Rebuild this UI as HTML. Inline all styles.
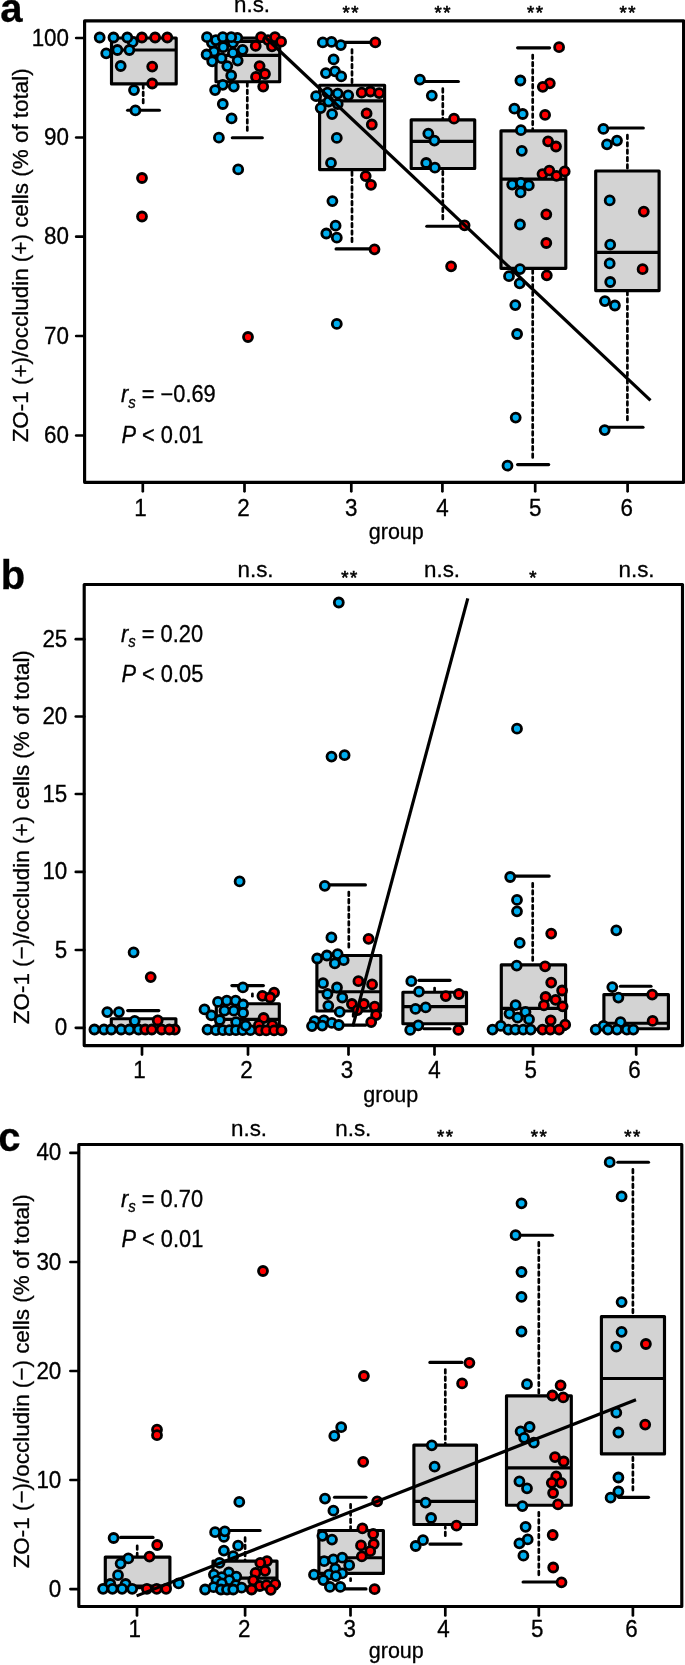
<!DOCTYPE html>
<html><head><meta charset="utf-8"><title>figure</title>
<style>
html,body{margin:0;padding:0;background:#fff;}
svg{display:block;will-change:transform;}
text{font-family:"Liberation Sans", sans-serif;fill:#000;stroke:#000;stroke-width:0.3px;}
</style></head><body>
<svg width="685" height="1665" viewBox="0 0 685 1665">
<rect x="0" y="0" width="685" height="1665" fill="#fff"/>
<g id="panelA">
<rect x="111.5" y="38" width="64.69999999999999" height="45.900000000000006" fill="#d3d3d3" stroke="#000" stroke-width="3.15" stroke-linejoin="round"/>
<line x1="111.5" y1="50" x2="176.2" y2="50" stroke="#000" stroke-width="3.15"/>
<line x1="143.2" y1="103.0" x2="143.2" y2="85" stroke="#000" stroke-width="2.7" stroke-dasharray="3.6 3.76" stroke-linecap="round"/>
<line x1="127.6" y1="110.2" x2="159.4" y2="110.2" stroke="#000" stroke-width="3.15" stroke-linecap="round"/>
<rect x="216" y="41.5" width="63.69999999999999" height="40.2" fill="#d3d3d3" stroke="#000" stroke-width="3.15" stroke-linejoin="round"/>
<line x1="216" y1="55.4" x2="279.7" y2="55.4" stroke="#000" stroke-width="3.15"/>
<line x1="232.29999999999998" y1="38.1" x2="262.29999999999995" y2="38.1" stroke="#000" stroke-width="3.15" stroke-linecap="round"/>
<line x1="247.3" y1="130.5" x2="247.3" y2="83" stroke="#000" stroke-width="2.7" stroke-dasharray="3.6 3.76" stroke-linecap="round"/>
<line x1="232.29999999999998" y1="137.7" x2="262.29999999999995" y2="137.7" stroke="#000" stroke-width="3.15" stroke-linecap="round"/>
<rect x="319.6" y="85.2" width="65.0" height="84.39999999999999" fill="#d3d3d3" stroke="#000" stroke-width="3.15" stroke-linejoin="round"/>
<line x1="319.6" y1="100.9" x2="384.6" y2="100.9" stroke="#000" stroke-width="3.15"/>
<line x1="352" y1="49.599999999999994" x2="352" y2="84" stroke="#000" stroke-width="2.7" stroke-dasharray="3.6 3.76" stroke-linecap="round"/>
<line x1="342.1" y1="42.4" x2="374.2" y2="42.4" stroke="#000" stroke-width="3.15" stroke-linecap="round"/>
<line x1="352" y1="241.7" x2="352" y2="171" stroke="#000" stroke-width="2.7" stroke-dasharray="3.6 3.76" stroke-linecap="round"/>
<line x1="336.1" y1="248.9" x2="373.4" y2="248.9" stroke="#000" stroke-width="3.15" stroke-linecap="round"/>
<rect x="411.2" y="119.8" width="63.5" height="48.7" fill="#d3d3d3" stroke="#000" stroke-width="3.15" stroke-linejoin="round"/>
<line x1="411.2" y1="141.4" x2="474.7" y2="141.4" stroke="#000" stroke-width="3.15"/>
<line x1="442.8" y1="88.7" x2="442.8" y2="118.5" stroke="#000" stroke-width="2.7" stroke-dasharray="3.6 3.76" stroke-linecap="round"/>
<line x1="420.6" y1="81.5" x2="458.4" y2="81.5" stroke="#000" stroke-width="3.15" stroke-linecap="round"/>
<line x1="442.8" y1="219.0" x2="442.8" y2="170" stroke="#000" stroke-width="2.7" stroke-dasharray="3.6 3.76" stroke-linecap="round"/>
<line x1="426.8" y1="226.2" x2="463.9" y2="226.2" stroke="#000" stroke-width="3.15" stroke-linecap="round"/>
<rect x="501" y="130.8" width="64.79999999999995" height="137.5" fill="#d3d3d3" stroke="#000" stroke-width="3.15" stroke-linejoin="round"/>
<line x1="501" y1="179.1" x2="565.8" y2="179.1" stroke="#000" stroke-width="3.15"/>
<line x1="532.7" y1="55.0" x2="532.7" y2="129.5" stroke="#000" stroke-width="2.7" stroke-dasharray="3.6 3.76" stroke-linecap="round"/>
<line x1="517.6" y1="47.8" x2="549.6" y2="47.8" stroke="#000" stroke-width="3.15" stroke-linecap="round"/>
<line x1="532.7" y1="457.4" x2="532.7" y2="270" stroke="#000" stroke-width="2.7" stroke-dasharray="3.6 3.76" stroke-linecap="round"/>
<line x1="517.6" y1="464.6" x2="548.6999999999999" y2="464.6" stroke="#000" stroke-width="3.15" stroke-linecap="round"/>
<rect x="595.7" y="171" width="63.39999999999998" height="119.60000000000002" fill="#d3d3d3" stroke="#000" stroke-width="3.15" stroke-linejoin="round"/>
<line x1="595.7" y1="252.4" x2="659.1" y2="252.4" stroke="#000" stroke-width="3.15"/>
<line x1="627.4" y1="135.20000000000002" x2="627.4" y2="169.5" stroke="#000" stroke-width="2.7" stroke-dasharray="3.6 3.76" stroke-linecap="round"/>
<line x1="609.9" y1="128" x2="643.3" y2="128" stroke="#000" stroke-width="3.15" stroke-linecap="round"/>
<line x1="627.4" y1="420.0" x2="627.4" y2="292" stroke="#000" stroke-width="2.7" stroke-dasharray="3.6 3.76" stroke-linecap="round"/>
<line x1="608.7" y1="427.2" x2="643.0" y2="427.2" stroke="#000" stroke-width="3.15" stroke-linecap="round"/>
<rect x="84.6" y="20.8" width="599.0" height="461.5" fill="none" stroke="#000" stroke-width="3.15" stroke-linejoin="round"/>
<line x1="76.19999999999999" y1="38" x2="84.6" y2="38" stroke="#000" stroke-width="2.7" stroke-linecap="round"/>
<text transform="translate(69,45.5) scale(1,1.07)" font-size="22.4" text-anchor="end" >100</text>
<line x1="76.19999999999999" y1="137.5" x2="84.6" y2="137.5" stroke="#000" stroke-width="2.7" stroke-linecap="round"/>
<text transform="translate(69,145.0) scale(1,1.07)" font-size="22.4" text-anchor="end" >90</text>
<line x1="76.19999999999999" y1="236.7" x2="84.6" y2="236.7" stroke="#000" stroke-width="2.7" stroke-linecap="round"/>
<text transform="translate(69,244.2) scale(1,1.07)" font-size="22.4" text-anchor="end" >80</text>
<line x1="76.19999999999999" y1="336" x2="84.6" y2="336" stroke="#000" stroke-width="2.7" stroke-linecap="round"/>
<text transform="translate(69,343.5) scale(1,1.07)" font-size="22.4" text-anchor="end" >70</text>
<line x1="76.19999999999999" y1="435.5" x2="84.6" y2="435.5" stroke="#000" stroke-width="2.7" stroke-linecap="round"/>
<text transform="translate(69,443.0) scale(1,1.07)" font-size="22.4" text-anchor="end" >60</text>
<line x1="142.8" y1="482.3" x2="142.8" y2="491.3" stroke="#000" stroke-width="2.7" stroke-linecap="round"/>
<text transform="translate(140.5,515.8) scale(1,1.07)" font-size="22.4" text-anchor="middle" >1</text>
<line x1="244.5" y1="482.3" x2="244.5" y2="491.3" stroke="#000" stroke-width="2.7" stroke-linecap="round"/>
<text transform="translate(243.6,515.8) scale(1,1.07)" font-size="22.4" text-anchor="middle" >2</text>
<line x1="351.3" y1="482.3" x2="351.3" y2="491.3" stroke="#000" stroke-width="2.7" stroke-linecap="round"/>
<text transform="translate(351.3,515.8) scale(1,1.07)" font-size="22.4" text-anchor="middle" >3</text>
<line x1="442.4" y1="482.3" x2="442.4" y2="491.3" stroke="#000" stroke-width="2.7" stroke-linecap="round"/>
<text transform="translate(442.4,515.8) scale(1,1.07)" font-size="22.4" text-anchor="middle" >4</text>
<line x1="535.2" y1="482.3" x2="535.2" y2="491.3" stroke="#000" stroke-width="2.7" stroke-linecap="round"/>
<text transform="translate(535.2,515.8) scale(1,1.07)" font-size="22.4" text-anchor="middle" >5</text>
<line x1="627.6" y1="482.3" x2="627.6" y2="491.3" stroke="#000" stroke-width="2.7" stroke-linecap="round"/>
<text transform="translate(626.7,515.8) scale(1,1.07)" font-size="22.4" text-anchor="middle" >6</text>
<circle cx="99.7" cy="37.5" r="4.5" fill="#00aeef" stroke="#000" stroke-width="2.8"/>
<circle cx="113.5" cy="37.5" r="4.5" fill="#00aeef" stroke="#000" stroke-width="2.8"/>
<circle cx="132.7" cy="41.9" r="4.5" fill="#00aeef" stroke="#000" stroke-width="2.8"/>
<circle cx="127.3" cy="37.5" r="4.5" fill="#00aeef" stroke="#000" stroke-width="2.8"/>
<circle cx="106.2" cy="53.3" r="4.5" fill="#00aeef" stroke="#000" stroke-width="2.8"/>
<circle cx="117.4" cy="50" r="4.5" fill="#00aeef" stroke="#000" stroke-width="2.8"/>
<circle cx="129.4" cy="50" r="4.5" fill="#00aeef" stroke="#000" stroke-width="2.8"/>
<circle cx="120.7" cy="66" r="4.5" fill="#00aeef" stroke="#000" stroke-width="2.8"/>
<circle cx="134" cy="90.1" r="4.5" fill="#00aeef" stroke="#000" stroke-width="2.8"/>
<circle cx="135.4" cy="110.4" r="4.5" fill="#00aeef" stroke="#000" stroke-width="2.8"/>
<circle cx="141.9" cy="37.5" r="4.5" fill="#ff0000" stroke="#000" stroke-width="2.8"/>
<circle cx="155.1" cy="37.5" r="4.5" fill="#ff0000" stroke="#000" stroke-width="2.8"/>
<circle cx="167.3" cy="37.5" r="4.5" fill="#ff0000" stroke="#000" stroke-width="2.8"/>
<circle cx="152.2" cy="66.6" r="4.5" fill="#ff0000" stroke="#000" stroke-width="2.8"/>
<circle cx="152.2" cy="83.5" r="4.5" fill="#ff0000" stroke="#000" stroke-width="2.8"/>
<circle cx="142" cy="178" r="4.5" fill="#ff0000" stroke="#000" stroke-width="2.8"/>
<circle cx="142" cy="216.5" r="4.5" fill="#ff0000" stroke="#000" stroke-width="2.8"/>
<circle cx="211.9" cy="42.8" r="4.5" fill="#00aeef" stroke="#000" stroke-width="2.8"/>
<circle cx="215.9" cy="40.1" r="4.5" fill="#00aeef" stroke="#000" stroke-width="2.8"/>
<circle cx="207" cy="37.2" r="4.5" fill="#00aeef" stroke="#000" stroke-width="2.8"/>
<circle cx="222.8" cy="37.2" r="4.5" fill="#00aeef" stroke="#000" stroke-width="2.8"/>
<circle cx="232.9" cy="42.8" r="4.5" fill="#00aeef" stroke="#000" stroke-width="2.8"/>
<circle cx="237.3" cy="37.9" r="4.5" fill="#00aeef" stroke="#000" stroke-width="2.8"/>
<circle cx="231.2" cy="37.2" r="4.5" fill="#00aeef" stroke="#000" stroke-width="2.8"/>
<circle cx="223.3" cy="47.2" r="4.5" fill="#00aeef" stroke="#000" stroke-width="2.8"/>
<circle cx="242.6" cy="49.8" r="4.5" fill="#00aeef" stroke="#000" stroke-width="2.8"/>
<circle cx="214" cy="51.5" r="4.5" fill="#00aeef" stroke="#000" stroke-width="2.8"/>
<circle cx="232.9" cy="52.9" r="4.5" fill="#00aeef" stroke="#000" stroke-width="2.8"/>
<circle cx="206.6" cy="54.5" r="4.5" fill="#00aeef" stroke="#000" stroke-width="2.8"/>
<circle cx="221.5" cy="58.2" r="4.5" fill="#00aeef" stroke="#000" stroke-width="2.8"/>
<circle cx="212.2" cy="61.3" r="4.5" fill="#00aeef" stroke="#000" stroke-width="2.8"/>
<circle cx="237.7" cy="60.6" r="4.5" fill="#00aeef" stroke="#000" stroke-width="2.8"/>
<circle cx="227.3" cy="66.1" r="4.5" fill="#00aeef" stroke="#000" stroke-width="2.8"/>
<circle cx="231.2" cy="75.5" r="4.5" fill="#00aeef" stroke="#000" stroke-width="2.8"/>
<circle cx="222.8" cy="84.8" r="4.5" fill="#00aeef" stroke="#000" stroke-width="2.8"/>
<circle cx="233.8" cy="86.6" r="4.5" fill="#00aeef" stroke="#000" stroke-width="2.8"/>
<circle cx="215.1" cy="90.1" r="4.5" fill="#00aeef" stroke="#000" stroke-width="2.8"/>
<circle cx="222.8" cy="104" r="4.5" fill="#00aeef" stroke="#000" stroke-width="2.8"/>
<circle cx="231.6" cy="118.4" r="4.5" fill="#00aeef" stroke="#000" stroke-width="2.8"/>
<circle cx="218.9" cy="137.7" r="4.5" fill="#00aeef" stroke="#000" stroke-width="2.8"/>
<circle cx="238.2" cy="169.4" r="4.5" fill="#00aeef" stroke="#000" stroke-width="2.8"/>
<circle cx="261" cy="37.2" r="4.5" fill="#ff0000" stroke="#000" stroke-width="2.8"/>
<circle cx="268" cy="40.1" r="4.5" fill="#ff0000" stroke="#000" stroke-width="2.8"/>
<circle cx="275" cy="37.2" r="4.5" fill="#ff0000" stroke="#000" stroke-width="2.8"/>
<circle cx="281.1" cy="41.7" r="4.5" fill="#ff0000" stroke="#000" stroke-width="2.8"/>
<circle cx="255.7" cy="45.9" r="4.5" fill="#ff0000" stroke="#000" stroke-width="2.8"/>
<circle cx="272" cy="46.3" r="4.5" fill="#ff0000" stroke="#000" stroke-width="2.8"/>
<circle cx="259.6" cy="66.1" r="4.5" fill="#ff0000" stroke="#000" stroke-width="2.8"/>
<circle cx="265" cy="74" r="4.5" fill="#ff0000" stroke="#000" stroke-width="2.8"/>
<circle cx="256" cy="76.9" r="4.5" fill="#ff0000" stroke="#000" stroke-width="2.8"/>
<circle cx="263.2" cy="86.6" r="4.5" fill="#ff0000" stroke="#000" stroke-width="2.8"/>
<circle cx="248" cy="337" r="4.5" fill="#ff0000" stroke="#000" stroke-width="2.8"/>
<circle cx="322.8" cy="42.4" r="4.5" fill="#00aeef" stroke="#000" stroke-width="2.8"/>
<circle cx="331.5" cy="41.9" r="4.5" fill="#00aeef" stroke="#000" stroke-width="2.8"/>
<circle cx="340.8" cy="45.1" r="4.5" fill="#00aeef" stroke="#000" stroke-width="2.8"/>
<circle cx="333.6" cy="59.4" r="4.5" fill="#00aeef" stroke="#000" stroke-width="2.8"/>
<circle cx="325.9" cy="73.1" r="4.5" fill="#00aeef" stroke="#000" stroke-width="2.8"/>
<circle cx="335" cy="71.3" r="4.5" fill="#00aeef" stroke="#000" stroke-width="2.8"/>
<circle cx="341.2" cy="76.4" r="4.5" fill="#00aeef" stroke="#000" stroke-width="2.8"/>
<circle cx="316.1" cy="96.2" r="4.5" fill="#00aeef" stroke="#000" stroke-width="2.8"/>
<circle cx="327.5" cy="92.7" r="4.5" fill="#00aeef" stroke="#000" stroke-width="2.8"/>
<circle cx="337.7" cy="93.6" r="4.5" fill="#00aeef" stroke="#000" stroke-width="2.8"/>
<circle cx="348.2" cy="95.3" r="4.5" fill="#00aeef" stroke="#000" stroke-width="2.8"/>
<circle cx="328.6" cy="101.5" r="4.5" fill="#00aeef" stroke="#000" stroke-width="2.8"/>
<circle cx="337.7" cy="104.1" r="4.5" fill="#00aeef" stroke="#000" stroke-width="2.8"/>
<circle cx="320.7" cy="108.1" r="4.5" fill="#00aeef" stroke="#000" stroke-width="2.8"/>
<circle cx="332.1" cy="114.1" r="4.5" fill="#00aeef" stroke="#000" stroke-width="2.8"/>
<circle cx="336.8" cy="137.9" r="4.5" fill="#00aeef" stroke="#000" stroke-width="2.8"/>
<circle cx="331" cy="162.9" r="4.5" fill="#00aeef" stroke="#000" stroke-width="2.8"/>
<circle cx="332.4" cy="201.1" r="4.5" fill="#00aeef" stroke="#000" stroke-width="2.8"/>
<circle cx="335.6" cy="225.7" r="4.5" fill="#00aeef" stroke="#000" stroke-width="2.8"/>
<circle cx="326.3" cy="233.5" r="4.5" fill="#00aeef" stroke="#000" stroke-width="2.8"/>
<circle cx="336.8" cy="237.7" r="4.5" fill="#00aeef" stroke="#000" stroke-width="2.8"/>
<circle cx="336.8" cy="323.9" r="4.5" fill="#00aeef" stroke="#000" stroke-width="2.8"/>
<circle cx="375.3" cy="42.4" r="4.5" fill="#ff0000" stroke="#000" stroke-width="2.8"/>
<circle cx="361.7" cy="92.7" r="4.5" fill="#ff0000" stroke="#000" stroke-width="2.8"/>
<circle cx="370.4" cy="91.5" r="4.5" fill="#ff0000" stroke="#000" stroke-width="2.8"/>
<circle cx="379.2" cy="93.1" r="4.5" fill="#ff0000" stroke="#000" stroke-width="2.8"/>
<circle cx="366.6" cy="113.4" r="4.5" fill="#ff0000" stroke="#000" stroke-width="2.8"/>
<circle cx="371.8" cy="124.5" r="4.5" fill="#ff0000" stroke="#000" stroke-width="2.8"/>
<circle cx="365.7" cy="176.1" r="4.5" fill="#ff0000" stroke="#000" stroke-width="2.8"/>
<circle cx="371" cy="184.8" r="4.5" fill="#ff0000" stroke="#000" stroke-width="2.8"/>
<circle cx="374.5" cy="249.3" r="4.5" fill="#ff0000" stroke="#000" stroke-width="2.8"/>
<circle cx="419.9" cy="79.6" r="4.5" fill="#00aeef" stroke="#000" stroke-width="2.8"/>
<circle cx="431.8" cy="95.6" r="4.5" fill="#00aeef" stroke="#000" stroke-width="2.8"/>
<circle cx="428.3" cy="133.6" r="4.5" fill="#00aeef" stroke="#000" stroke-width="2.8"/>
<circle cx="434.4" cy="140.6" r="4.5" fill="#00aeef" stroke="#000" stroke-width="2.8"/>
<circle cx="426.2" cy="163" r="4.5" fill="#00aeef" stroke="#000" stroke-width="2.8"/>
<circle cx="434.9" cy="167.7" r="4.5" fill="#00aeef" stroke="#000" stroke-width="2.8"/>
<circle cx="454" cy="118.7" r="4.5" fill="#ff0000" stroke="#000" stroke-width="2.8"/>
<circle cx="464.6" cy="225.3" r="4.5" fill="#ff0000" stroke="#000" stroke-width="2.8"/>
<circle cx="451.1" cy="266.3" r="4.5" fill="#ff0000" stroke="#000" stroke-width="2.8"/>
<circle cx="520.4" cy="80.5" r="4.5" fill="#00aeef" stroke="#000" stroke-width="2.8"/>
<circle cx="514.4" cy="108.7" r="4.5" fill="#00aeef" stroke="#000" stroke-width="2.8"/>
<circle cx="522.7" cy="114" r="4.5" fill="#00aeef" stroke="#000" stroke-width="2.8"/>
<circle cx="520.9" cy="130.2" r="4.5" fill="#00aeef" stroke="#000" stroke-width="2.8"/>
<circle cx="521.8" cy="150.8" r="4.5" fill="#00aeef" stroke="#000" stroke-width="2.8"/>
<circle cx="512.2" cy="184.6" r="4.5" fill="#00aeef" stroke="#000" stroke-width="2.8"/>
<circle cx="520.9" cy="182.8" r="4.5" fill="#00aeef" stroke="#000" stroke-width="2.8"/>
<circle cx="528.8" cy="185.4" r="4.5" fill="#00aeef" stroke="#000" stroke-width="2.8"/>
<circle cx="520.6" cy="192.4" r="4.5" fill="#00aeef" stroke="#000" stroke-width="2.8"/>
<circle cx="520" cy="224.5" r="4.5" fill="#00aeef" stroke="#000" stroke-width="2.8"/>
<circle cx="520" cy="269.1" r="4.5" fill="#00aeef" stroke="#000" stroke-width="2.8"/>
<circle cx="509" cy="276.2" r="4.5" fill="#00aeef" stroke="#000" stroke-width="2.8"/>
<circle cx="519.7" cy="283.3" r="4.5" fill="#00aeef" stroke="#000" stroke-width="2.8"/>
<circle cx="515.3" cy="305.1" r="4.5" fill="#00aeef" stroke="#000" stroke-width="2.8"/>
<circle cx="517.1" cy="334" r="4.5" fill="#00aeef" stroke="#000" stroke-width="2.8"/>
<circle cx="515.7" cy="417.6" r="4.5" fill="#00aeef" stroke="#000" stroke-width="2.8"/>
<circle cx="507.5" cy="465.7" r="4.5" fill="#00aeef" stroke="#000" stroke-width="2.8"/>
<circle cx="559.1" cy="47.2" r="4.5" fill="#ff0000" stroke="#000" stroke-width="2.8"/>
<circle cx="549.8" cy="83.3" r="4.5" fill="#ff0000" stroke="#000" stroke-width="2.8"/>
<circle cx="542.8" cy="86.8" r="4.5" fill="#ff0000" stroke="#000" stroke-width="2.8"/>
<circle cx="545.1" cy="114.9" r="4.5" fill="#ff0000" stroke="#000" stroke-width="2.8"/>
<circle cx="548.1" cy="141.3" r="4.5" fill="#ff0000" stroke="#000" stroke-width="2.8"/>
<circle cx="556" cy="146.5" r="4.5" fill="#ff0000" stroke="#000" stroke-width="2.8"/>
<circle cx="542.5" cy="174.1" r="4.5" fill="#ff0000" stroke="#000" stroke-width="2.8"/>
<circle cx="549.3" cy="170.6" r="4.5" fill="#ff0000" stroke="#000" stroke-width="2.8"/>
<circle cx="556.5" cy="175.8" r="4.5" fill="#ff0000" stroke="#000" stroke-width="2.8"/>
<circle cx="564.7" cy="171.4" r="4.5" fill="#ff0000" stroke="#000" stroke-width="2.8"/>
<circle cx="546.3" cy="214.3" r="4.5" fill="#ff0000" stroke="#000" stroke-width="2.8"/>
<circle cx="546.3" cy="243" r="4.5" fill="#ff0000" stroke="#000" stroke-width="2.8"/>
<circle cx="546.8" cy="275.3" r="4.5" fill="#ff0000" stroke="#000" stroke-width="2.8"/>
<circle cx="603.4" cy="128.9" r="4.5" fill="#00aeef" stroke="#000" stroke-width="2.8"/>
<circle cx="617" cy="140.6" r="4.5" fill="#00aeef" stroke="#000" stroke-width="2.8"/>
<circle cx="607" cy="144.3" r="4.5" fill="#00aeef" stroke="#000" stroke-width="2.8"/>
<circle cx="609.7" cy="200.4" r="4.5" fill="#00aeef" stroke="#000" stroke-width="2.8"/>
<circle cx="610.2" cy="244.7" r="4.5" fill="#00aeef" stroke="#000" stroke-width="2.8"/>
<circle cx="609.7" cy="263.4" r="4.5" fill="#00aeef" stroke="#000" stroke-width="2.8"/>
<circle cx="610.2" cy="282" r="4.5" fill="#00aeef" stroke="#000" stroke-width="2.8"/>
<circle cx="604.9" cy="301.1" r="4.5" fill="#00aeef" stroke="#000" stroke-width="2.8"/>
<circle cx="614.9" cy="305.5" r="4.5" fill="#00aeef" stroke="#000" stroke-width="2.8"/>
<circle cx="604.7" cy="430.1" r="4.5" fill="#00aeef" stroke="#000" stroke-width="2.8"/>
<circle cx="643.8" cy="211.6" r="4.5" fill="#ff0000" stroke="#000" stroke-width="2.8"/>
<circle cx="642.6" cy="269.2" r="4.5" fill="#ff0000" stroke="#000" stroke-width="2.8"/>
<line x1="264.4" y1="36.5" x2="650.5" y2="400.3" stroke="#000" stroke-width="3.15"/>
<text x="0.2" y="22.1" font-size="40" text-anchor="start" font-weight="bold">a</text>
<text x="252" y="12.2" font-size="22.4" text-anchor="middle" >n.s.</text>
<text x="342.50 351.25" y="19.18" font-size="18.6" style="stroke-width:0.6px">**</text>
<text x="434.50 443.25" y="19.18" font-size="18.6" style="stroke-width:0.6px">**</text>
<text x="527.00 535.75" y="19.18" font-size="18.6" style="stroke-width:0.6px">**</text>
<text x="619.50 628.25" y="19.18" font-size="18.6" style="stroke-width:0.6px">**</text>
<text transform="translate(121.0,402.4) scale(1,1.06)" font-size="21.8"><tspan font-style="italic">r</tspan><tspan font-style="italic" font-size="15" dy="5">s</tspan><tspan dy="-5"> = −0.69</tspan></text>
<text transform="translate(121.5,442.6) scale(1,1.06)" font-size="21.8"><tspan font-style="italic">P</tspan> &lt; 0.01</text>
<text x="396.3" y="539.1" font-size="21.5" text-anchor="middle" >group</text>
<text transform="translate(28.2,255.3) rotate(-90)" font-size="22.45" text-anchor="middle">ZO-1 (+)/occludin (+) cells (% of total)</text>
</g>
<g id="panelB">
<rect x="111.3" y="1018.7" width="64.60000000000001" height="10.599999999999909" fill="#d3d3d3" stroke="#000" stroke-width="3.15" stroke-linejoin="round"/>
<line x1="111.3" y1="1028.3" x2="175.9" y2="1028.3" stroke="#000" stroke-width="3.15"/>
<line x1="127.69999999999999" y1="1010.6" x2="158.8" y2="1010.6" stroke="#000" stroke-width="3.15" stroke-linecap="round"/>
<rect x="216.3" y="1003.7" width="63.0" height="25.59999999999991" fill="#d3d3d3" stroke="#000" stroke-width="3.15" stroke-linejoin="round"/>
<line x1="216.3" y1="1019.4" x2="279.3" y2="1019.4" stroke="#000" stroke-width="3.15"/>
<line x1="252.4" y1="993.8" x2="252.4" y2="996.2" stroke="#000" stroke-width="2.7" stroke-dasharray="3.6 3.76" stroke-linecap="round"/>
<line x1="231.9" y1="985.6" x2="263.4" y2="985.6" stroke="#000" stroke-width="3.15" stroke-linecap="round"/>
<rect x="316.9" y="955.5" width="63.900000000000034" height="55.5" fill="#d3d3d3" stroke="#000" stroke-width="3.15" stroke-linejoin="round"/>
<line x1="316.9" y1="991.7" x2="380.8" y2="991.7" stroke="#000" stroke-width="3.15"/>
<line x1="348.8" y1="892.0999999999999" x2="348.8" y2="948.5" stroke="#000" stroke-width="2.7" stroke-dasharray="3.6 3.76" stroke-linecap="round"/>
<line x1="325.90000000000003" y1="884.9" x2="365.4" y2="884.9" stroke="#000" stroke-width="3.15" stroke-linecap="round"/>
<line x1="353.2" y1="1016.3" x2="353.2" y2="1014" stroke="#000" stroke-width="2.7" stroke-dasharray="3.6 3.76" stroke-linecap="round"/>
<line x1="339.90000000000003" y1="1025.1" x2="365.7" y2="1025.1" stroke="#000" stroke-width="3.15" stroke-linecap="round"/>
<rect x="402.9" y="992.2" width="63.60000000000002" height="31.5" fill="#d3d3d3" stroke="#000" stroke-width="3.15" stroke-linejoin="round"/>
<line x1="402.9" y1="1006.6" x2="466.5" y2="1006.6" stroke="#000" stroke-width="3.15"/>
<line x1="434.6" y1="988" x2="434.6" y2="991" stroke="#000" stroke-width="2.7" stroke-dasharray="3.6 3.76" stroke-linecap="round"/>
<line x1="418.90000000000003" y1="980.3" x2="450.0" y2="980.3" stroke="#000" stroke-width="3.15" stroke-linecap="round"/>
<line x1="424.1" y1="1028.7" x2="450.0" y2="1028.7" stroke="#000" stroke-width="3.15" stroke-linecap="round"/>
<rect x="501.3" y="964.8" width="64.30000000000001" height="64.5" fill="#d3d3d3" stroke="#000" stroke-width="3.15" stroke-linejoin="round"/>
<line x1="501.3" y1="1008.4" x2="565.6" y2="1008.4" stroke="#000" stroke-width="3.15"/>
<line x1="532.7" y1="883.3" x2="532.7" y2="963.5" stroke="#000" stroke-width="2.7" stroke-dasharray="3.6 3.76" stroke-linecap="round"/>
<line x1="511.1" y1="876.1" x2="549.1999999999999" y2="876.1" stroke="#000" stroke-width="3.15" stroke-linecap="round"/>
<rect x="603.9" y="994.6" width="64.5" height="34.19999999999993" fill="#d3d3d3" stroke="#000" stroke-width="3.15" stroke-linejoin="round"/>
<line x1="603.9" y1="1023.2" x2="668.4" y2="1023.2" stroke="#000" stroke-width="3.15"/>
<line x1="620.4" y1="986.2" x2="651.0" y2="986.2" stroke="#000" stroke-width="3.15" stroke-linecap="round"/>
<rect x="84.2" y="584.5" width="598.3" height="461.0999999999999" fill="none" stroke="#000" stroke-width="3.15" stroke-linejoin="round"/>
<line x1="75.8" y1="639.2" x2="84.2" y2="639.2" stroke="#000" stroke-width="2.7" stroke-linecap="round"/>
<text transform="translate(67.3,646.7) scale(1,1.07)" font-size="22.4" text-anchor="end" >25</text>
<line x1="75.8" y1="716.5" x2="84.2" y2="716.5" stroke="#000" stroke-width="2.7" stroke-linecap="round"/>
<text transform="translate(67.3,724.0) scale(1,1.07)" font-size="22.4" text-anchor="end" >20</text>
<line x1="75.8" y1="794" x2="84.2" y2="794" stroke="#000" stroke-width="2.7" stroke-linecap="round"/>
<text transform="translate(67.3,801.5) scale(1,1.07)" font-size="22.4" text-anchor="end" >15</text>
<line x1="75.8" y1="871.9" x2="84.2" y2="871.9" stroke="#000" stroke-width="2.7" stroke-linecap="round"/>
<text transform="translate(67.3,879.4) scale(1,1.07)" font-size="22.4" text-anchor="end" >10</text>
<line x1="75.8" y1="950" x2="84.2" y2="950" stroke="#000" stroke-width="2.7" stroke-linecap="round"/>
<text transform="translate(67.3,957.5) scale(1,1.07)" font-size="22.4" text-anchor="end" >5</text>
<line x1="75.8" y1="1027.8" x2="84.2" y2="1027.8" stroke="#000" stroke-width="2.7" stroke-linecap="round"/>
<text transform="translate(67.3,1035.3) scale(1,1.07)" font-size="22.4" text-anchor="end" >0</text>
<line x1="142" y1="1045.6" x2="142" y2="1054.6" stroke="#000" stroke-width="2.7" stroke-linecap="round"/>
<text transform="translate(139.6,1077.6999999999998) scale(1,1.07)" font-size="22.4" text-anchor="middle" >1</text>
<line x1="248" y1="1045.6" x2="248" y2="1054.6" stroke="#000" stroke-width="2.7" stroke-linecap="round"/>
<text transform="translate(246.4,1077.6999999999998) scale(1,1.07)" font-size="22.4" text-anchor="middle" >2</text>
<line x1="348.5" y1="1045.6" x2="348.5" y2="1054.6" stroke="#000" stroke-width="2.7" stroke-linecap="round"/>
<text transform="translate(346.9,1077.6999999999998) scale(1,1.07)" font-size="22.4" text-anchor="middle" >3</text>
<line x1="434.5" y1="1045.6" x2="434.5" y2="1054.6" stroke="#000" stroke-width="2.7" stroke-linecap="round"/>
<text transform="translate(434.5,1077.6999999999998) scale(1,1.07)" font-size="22.4" text-anchor="middle" >4</text>
<line x1="533" y1="1045.6" x2="533" y2="1054.6" stroke="#000" stroke-width="2.7" stroke-linecap="round"/>
<text transform="translate(530.8,1077.6999999999998) scale(1,1.07)" font-size="22.4" text-anchor="middle" >5</text>
<line x1="636.2" y1="1045.6" x2="636.2" y2="1054.6" stroke="#000" stroke-width="2.7" stroke-linecap="round"/>
<text transform="translate(634.6,1077.6999999999998) scale(1,1.07)" font-size="22.4" text-anchor="middle" >6</text>
<circle cx="133.6" cy="952.3" r="4.5" fill="#00aeef" stroke="#000" stroke-width="2.8"/>
<circle cx="107.3" cy="1012.1" r="4.5" fill="#00aeef" stroke="#000" stroke-width="2.8"/>
<circle cx="118.9" cy="1012.1" r="4.5" fill="#00aeef" stroke="#000" stroke-width="2.8"/>
<circle cx="134.7" cy="1020.9" r="4.5" fill="#00aeef" stroke="#000" stroke-width="2.8"/>
<circle cx="94.4" cy="1029.5" r="4.5" fill="#00aeef" stroke="#000" stroke-width="2.8"/>
<circle cx="104" cy="1029.5" r="4.5" fill="#00aeef" stroke="#000" stroke-width="2.8"/>
<circle cx="111.3" cy="1029.5" r="4.5" fill="#00aeef" stroke="#000" stroke-width="2.8"/>
<circle cx="121.1" cy="1029.5" r="4.5" fill="#00aeef" stroke="#000" stroke-width="2.8"/>
<circle cx="129.4" cy="1029.5" r="4.5" fill="#00aeef" stroke="#000" stroke-width="2.8"/>
<circle cx="138.6" cy="1029.5" r="4.5" fill="#00aeef" stroke="#000" stroke-width="2.8"/>
<circle cx="150.7" cy="977.1" r="4.5" fill="#ff0000" stroke="#000" stroke-width="2.8"/>
<circle cx="157.7" cy="1020.4" r="4.5" fill="#ff0000" stroke="#000" stroke-width="2.8"/>
<circle cx="145.2" cy="1029.5" r="4.5" fill="#ff0000" stroke="#000" stroke-width="2.8"/>
<circle cx="151.8" cy="1029.5" r="4.5" fill="#ff0000" stroke="#000" stroke-width="2.8"/>
<circle cx="161.6" cy="1029.5" r="4.5" fill="#ff0000" stroke="#000" stroke-width="2.8"/>
<circle cx="174.8" cy="1029.5" r="4.5" fill="#ff0000" stroke="#000" stroke-width="2.8"/>
<circle cx="169.3" cy="1029.5" r="4.5" fill="#ff0000" stroke="#000" stroke-width="2.8"/>
<circle cx="239.6" cy="881.4" r="4.5" fill="#00aeef" stroke="#000" stroke-width="2.8"/>
<circle cx="242.9" cy="987.4" r="4.5" fill="#00aeef" stroke="#000" stroke-width="2.8"/>
<circle cx="218" cy="1001.9" r="4.5" fill="#00aeef" stroke="#000" stroke-width="2.8"/>
<circle cx="226.8" cy="1000.7" r="4.5" fill="#00aeef" stroke="#000" stroke-width="2.8"/>
<circle cx="235.6" cy="1000.7" r="4.5" fill="#00aeef" stroke="#000" stroke-width="2.8"/>
<circle cx="243.1" cy="1004.5" r="4.5" fill="#00aeef" stroke="#000" stroke-width="2.8"/>
<circle cx="204.5" cy="1009.4" r="4.5" fill="#00aeef" stroke="#000" stroke-width="2.8"/>
<circle cx="224.5" cy="1010.7" r="4.5" fill="#00aeef" stroke="#000" stroke-width="2.8"/>
<circle cx="233.8" cy="1010.7" r="4.5" fill="#00aeef" stroke="#000" stroke-width="2.8"/>
<circle cx="243.1" cy="1012.9" r="4.5" fill="#00aeef" stroke="#000" stroke-width="2.8"/>
<circle cx="211.4" cy="1015.4" r="4.5" fill="#00aeef" stroke="#000" stroke-width="2.8"/>
<circle cx="219.8" cy="1020" r="4.5" fill="#00aeef" stroke="#000" stroke-width="2.8"/>
<circle cx="236.1" cy="1022.1" r="4.5" fill="#00aeef" stroke="#000" stroke-width="2.8"/>
<circle cx="207.5" cy="1029.6" r="4.5" fill="#00aeef" stroke="#000" stroke-width="2.8"/>
<circle cx="215.9" cy="1030.2" r="4.5" fill="#00aeef" stroke="#000" stroke-width="2.8"/>
<circle cx="222.9" cy="1030.2" r="4.5" fill="#00aeef" stroke="#000" stroke-width="2.8"/>
<circle cx="229.4" cy="1030.2" r="4.5" fill="#00aeef" stroke="#000" stroke-width="2.8"/>
<circle cx="235.9" cy="1030.2" r="4.5" fill="#00aeef" stroke="#000" stroke-width="2.8"/>
<circle cx="242.6" cy="1030.2" r="4.5" fill="#00aeef" stroke="#000" stroke-width="2.8"/>
<circle cx="250.4" cy="1030.2" r="4.5" fill="#00aeef" stroke="#000" stroke-width="2.8"/>
<circle cx="245.7" cy="1025.6" r="4.5" fill="#00aeef" stroke="#000" stroke-width="2.8"/>
<circle cx="274.1" cy="992.6" r="4.5" fill="#ff0000" stroke="#000" stroke-width="2.8"/>
<circle cx="262.4" cy="995.8" r="4.5" fill="#ff0000" stroke="#000" stroke-width="2.8"/>
<circle cx="270.1" cy="997.5" r="4.5" fill="#ff0000" stroke="#000" stroke-width="2.8"/>
<circle cx="263.6" cy="1018" r="4.5" fill="#ff0000" stroke="#000" stroke-width="2.8"/>
<circle cx="258.9" cy="1025.2" r="4.5" fill="#ff0000" stroke="#000" stroke-width="2.8"/>
<circle cx="272.3" cy="1025.2" r="4.5" fill="#ff0000" stroke="#000" stroke-width="2.8"/>
<circle cx="259.7" cy="1030.4" r="4.5" fill="#ff0000" stroke="#000" stroke-width="2.8"/>
<circle cx="266.2" cy="1030.4" r="4.5" fill="#ff0000" stroke="#000" stroke-width="2.8"/>
<circle cx="274.1" cy="1030.4" r="4.5" fill="#ff0000" stroke="#000" stroke-width="2.8"/>
<circle cx="281.5" cy="1030.4" r="4.5" fill="#ff0000" stroke="#000" stroke-width="2.8"/>
<circle cx="338.8" cy="602.5" r="4.5" fill="#00aeef" stroke="#000" stroke-width="2.8"/>
<circle cx="331.5" cy="756.6" r="4.5" fill="#00aeef" stroke="#000" stroke-width="2.8"/>
<circle cx="344.6" cy="755.2" r="4.5" fill="#00aeef" stroke="#000" stroke-width="2.8"/>
<circle cx="324.8" cy="885.8" r="4.5" fill="#00aeef" stroke="#000" stroke-width="2.8"/>
<circle cx="331.4" cy="937.4" r="4.5" fill="#00aeef" stroke="#000" stroke-width="2.8"/>
<circle cx="317.2" cy="958.5" r="4.5" fill="#00aeef" stroke="#000" stroke-width="2.8"/>
<circle cx="326.9" cy="955.5" r="4.5" fill="#00aeef" stroke="#000" stroke-width="2.8"/>
<circle cx="337.6" cy="954.1" r="4.5" fill="#00aeef" stroke="#000" stroke-width="2.8"/>
<circle cx="343.7" cy="960.2" r="4.5" fill="#00aeef" stroke="#000" stroke-width="2.8"/>
<circle cx="334.8" cy="963.4" r="4.5" fill="#00aeef" stroke="#000" stroke-width="2.8"/>
<circle cx="323" cy="983.2" r="4.5" fill="#00aeef" stroke="#000" stroke-width="2.8"/>
<circle cx="337" cy="987.5" r="4.5" fill="#00aeef" stroke="#000" stroke-width="2.8"/>
<circle cx="327.4" cy="994" r="4.5" fill="#00aeef" stroke="#000" stroke-width="2.8"/>
<circle cx="342.3" cy="997.5" r="4.5" fill="#00aeef" stroke="#000" stroke-width="2.8"/>
<circle cx="328.3" cy="1005.8" r="4.5" fill="#00aeef" stroke="#000" stroke-width="2.8"/>
<circle cx="339.7" cy="1011.9" r="4.5" fill="#00aeef" stroke="#000" stroke-width="2.8"/>
<circle cx="314.6" cy="1021.2" r="4.5" fill="#00aeef" stroke="#000" stroke-width="2.8"/>
<circle cx="323.9" cy="1020.3" r="4.5" fill="#00aeef" stroke="#000" stroke-width="2.8"/>
<circle cx="312" cy="1026.1" r="4.5" fill="#00aeef" stroke="#000" stroke-width="2.8"/>
<circle cx="322.2" cy="1025.6" r="4.5" fill="#00aeef" stroke="#000" stroke-width="2.8"/>
<circle cx="331.8" cy="1022.9" r="4.5" fill="#00aeef" stroke="#000" stroke-width="2.8"/>
<circle cx="338.8" cy="1025" r="4.5" fill="#00aeef" stroke="#000" stroke-width="2.8"/>
<circle cx="368.6" cy="938.8" r="4.5" fill="#ff0000" stroke="#000" stroke-width="2.8"/>
<circle cx="358.4" cy="981.2" r="4.5" fill="#ff0000" stroke="#000" stroke-width="2.8"/>
<circle cx="372.1" cy="984.4" r="4.5" fill="#ff0000" stroke="#000" stroke-width="2.8"/>
<circle cx="351.9" cy="1004" r="4.5" fill="#ff0000" stroke="#000" stroke-width="2.8"/>
<circle cx="363.9" cy="1004" r="4.5" fill="#ff0000" stroke="#000" stroke-width="2.8"/>
<circle cx="374.7" cy="1006.6" r="4.5" fill="#ff0000" stroke="#000" stroke-width="2.8"/>
<circle cx="357.5" cy="1010.1" r="4.5" fill="#ff0000" stroke="#000" stroke-width="2.8"/>
<circle cx="376.1" cy="1015" r="4.5" fill="#ff0000" stroke="#000" stroke-width="2.8"/>
<circle cx="371.2" cy="1022.1" r="4.5" fill="#ff0000" stroke="#000" stroke-width="2.8"/>
<circle cx="411.3" cy="981.2" r="4.5" fill="#00aeef" stroke="#000" stroke-width="2.8"/>
<circle cx="419" cy="991.7" r="4.5" fill="#00aeef" stroke="#000" stroke-width="2.8"/>
<circle cx="415.5" cy="1008.9" r="4.5" fill="#00aeef" stroke="#000" stroke-width="2.8"/>
<circle cx="425.7" cy="1007.4" r="4.5" fill="#00aeef" stroke="#000" stroke-width="2.8"/>
<circle cx="418.3" cy="1025.3" r="4.5" fill="#00aeef" stroke="#000" stroke-width="2.8"/>
<circle cx="410.2" cy="1029.9" r="4.5" fill="#00aeef" stroke="#000" stroke-width="2.8"/>
<circle cx="445.8" cy="996.1" r="4.5" fill="#ff0000" stroke="#000" stroke-width="2.8"/>
<circle cx="458.9" cy="994" r="4.5" fill="#ff0000" stroke="#000" stroke-width="2.8"/>
<circle cx="458.4" cy="1029.9" r="4.5" fill="#ff0000" stroke="#000" stroke-width="2.8"/>
<circle cx="517" cy="728.7" r="4.5" fill="#00aeef" stroke="#000" stroke-width="2.8"/>
<circle cx="510.2" cy="877" r="4.5" fill="#00aeef" stroke="#000" stroke-width="2.8"/>
<circle cx="517" cy="899.9" r="4.5" fill="#00aeef" stroke="#000" stroke-width="2.8"/>
<circle cx="517" cy="911.3" r="4.5" fill="#00aeef" stroke="#000" stroke-width="2.8"/>
<circle cx="519.7" cy="942.9" r="4.5" fill="#00aeef" stroke="#000" stroke-width="2.8"/>
<circle cx="516.7" cy="965.6" r="4.5" fill="#00aeef" stroke="#000" stroke-width="2.8"/>
<circle cx="515.6" cy="1005.1" r="4.5" fill="#00aeef" stroke="#000" stroke-width="2.8"/>
<circle cx="509.5" cy="1013.6" r="4.5" fill="#00aeef" stroke="#000" stroke-width="2.8"/>
<circle cx="525.5" cy="1011.9" r="4.5" fill="#00aeef" stroke="#000" stroke-width="2.8"/>
<circle cx="517.6" cy="1017.7" r="4.5" fill="#00aeef" stroke="#000" stroke-width="2.8"/>
<circle cx="529" cy="1019.4" r="4.5" fill="#00aeef" stroke="#000" stroke-width="2.8"/>
<circle cx="500.8" cy="1025.9" r="4.5" fill="#00aeef" stroke="#000" stroke-width="2.8"/>
<circle cx="492.5" cy="1029.6" r="4.5" fill="#00aeef" stroke="#000" stroke-width="2.8"/>
<circle cx="508.3" cy="1029.6" r="4.5" fill="#00aeef" stroke="#000" stroke-width="2.8"/>
<circle cx="515.3" cy="1029.6" r="4.5" fill="#00aeef" stroke="#000" stroke-width="2.8"/>
<circle cx="523.2" cy="1029.6" r="4.5" fill="#00aeef" stroke="#000" stroke-width="2.8"/>
<circle cx="530.7" cy="1029.6" r="4.5" fill="#00aeef" stroke="#000" stroke-width="2.8"/>
<circle cx="551.2" cy="933.6" r="4.5" fill="#ff0000" stroke="#000" stroke-width="2.8"/>
<circle cx="545.1" cy="966.3" r="4.5" fill="#ff0000" stroke="#000" stroke-width="2.8"/>
<circle cx="551.2" cy="982.6" r="4.5" fill="#ff0000" stroke="#000" stroke-width="2.8"/>
<circle cx="562.1" cy="990.5" r="4.5" fill="#ff0000" stroke="#000" stroke-width="2.8"/>
<circle cx="545.6" cy="997" r="4.5" fill="#ff0000" stroke="#000" stroke-width="2.8"/>
<circle cx="555.6" cy="999.8" r="4.5" fill="#ff0000" stroke="#000" stroke-width="2.8"/>
<circle cx="543.9" cy="1005.4" r="4.5" fill="#ff0000" stroke="#000" stroke-width="2.8"/>
<circle cx="562.6" cy="1006.3" r="4.5" fill="#ff0000" stroke="#000" stroke-width="2.8"/>
<circle cx="550.7" cy="1020.3" r="4.5" fill="#ff0000" stroke="#000" stroke-width="2.8"/>
<circle cx="565.2" cy="1024.7" r="4.5" fill="#ff0000" stroke="#000" stroke-width="2.8"/>
<circle cx="542.5" cy="1029.6" r="4.5" fill="#ff0000" stroke="#000" stroke-width="2.8"/>
<circle cx="550.3" cy="1029.6" r="4.5" fill="#ff0000" stroke="#000" stroke-width="2.8"/>
<circle cx="559.1" cy="1029.6" r="4.5" fill="#ff0000" stroke="#000" stroke-width="2.8"/>
<circle cx="616.3" cy="930.3" r="4.5" fill="#00aeef" stroke="#000" stroke-width="2.8"/>
<circle cx="612.3" cy="987.1" r="4.5" fill="#00aeef" stroke="#000" stroke-width="2.8"/>
<circle cx="618.4" cy="997.6" r="4.5" fill="#00aeef" stroke="#000" stroke-width="2.8"/>
<circle cx="620.5" cy="1022.1" r="4.5" fill="#00aeef" stroke="#000" stroke-width="2.8"/>
<circle cx="603.5" cy="1025.8" r="4.5" fill="#00aeef" stroke="#000" stroke-width="2.8"/>
<circle cx="595.7" cy="1029.6" r="4.5" fill="#00aeef" stroke="#000" stroke-width="2.8"/>
<circle cx="607.9" cy="1029.6" r="4.5" fill="#00aeef" stroke="#000" stroke-width="2.8"/>
<circle cx="617" cy="1029.6" r="4.5" fill="#00aeef" stroke="#000" stroke-width="2.8"/>
<circle cx="626.8" cy="1029.6" r="4.5" fill="#00aeef" stroke="#000" stroke-width="2.8"/>
<circle cx="633.3" cy="1029.6" r="4.5" fill="#00aeef" stroke="#000" stroke-width="2.8"/>
<circle cx="652.2" cy="994.6" r="4.5" fill="#ff0000" stroke="#000" stroke-width="2.8"/>
<circle cx="652.6" cy="1020.9" r="4.5" fill="#ff0000" stroke="#000" stroke-width="2.8"/>
<line x1="352.8" y1="1026.4" x2="467.8" y2="598.4" stroke="#000" stroke-width="3.15"/>
<text x="0.7" y="589.3" font-size="40" text-anchor="start" font-weight="bold">b</text>
<text x="255.5" y="576.6" font-size="22.4" text-anchor="middle" >n.s.</text>
<text x="442" y="576.6" font-size="22.4" text-anchor="middle" >n.s.</text>
<text x="636.5" y="576.6" font-size="22.4" text-anchor="middle" >n.s.</text>
<text x="341.30 350.05" y="583.63" font-size="18.6" style="stroke-width:0.6px">**</text>
<text x="529.37" y="583.63" font-size="18.6" style="stroke-width:0.6px">*</text>
<text transform="translate(121.0,641.5) scale(1,1.06)" font-size="21.8"><tspan font-style="italic">r</tspan><tspan font-style="italic" font-size="15" dy="5">s</tspan><tspan dy="-5"> = 0.20</tspan></text>
<text transform="translate(121.5,681.6) scale(1,1.06)" font-size="21.8"><tspan font-style="italic">P</tspan> &lt; 0.05</text>
<text x="390.8" y="1101.5" font-size="21.5" text-anchor="middle" >group</text>
<text transform="translate(29.2,837.2) rotate(-90)" font-size="22.45" text-anchor="middle">ZO-1 (−)/occludin (+) cells (% of total)</text>
</g>
<g id="panelC">
<rect x="105.3" y="1557.1" width="64.60000000000001" height="30.700000000000045" fill="#d3d3d3" stroke="#000" stroke-width="3.15" stroke-linejoin="round"/>
<line x1="105.3" y1="1586" x2="169.9" y2="1586" stroke="#000" stroke-width="3.15"/>
<line x1="137.2" y1="1545.8" x2="137.2" y2="1556" stroke="#000" stroke-width="2.7" stroke-dasharray="3.6 3.76" stroke-linecap="round"/>
<line x1="120.6" y1="1537.4" x2="153.0" y2="1537.4" stroke="#000" stroke-width="3.15" stroke-linecap="round"/>
<rect x="213" y="1561.1" width="64" height="27.5" fill="#d3d3d3" stroke="#000" stroke-width="3.15" stroke-linejoin="round"/>
<line x1="213" y1="1578.1" x2="277" y2="1578.1" stroke="#000" stroke-width="3.15"/>
<line x1="245.1" y1="1537.7" x2="245.1" y2="1560" stroke="#000" stroke-width="2.7" stroke-dasharray="3.6 3.76" stroke-linecap="round"/>
<line x1="226.4" y1="1530.5" x2="260.09999999999997" y2="1530.5" stroke="#000" stroke-width="3.15" stroke-linecap="round"/>
<rect x="318.9" y="1530.5" width="64.5" height="42.90000000000009" fill="#d3d3d3" stroke="#000" stroke-width="3.15" stroke-linejoin="round"/>
<line x1="318.9" y1="1557.7" x2="383.4" y2="1557.7" stroke="#000" stroke-width="3.15"/>
<line x1="350.6" y1="1504.3999999999999" x2="350.6" y2="1529" stroke="#000" stroke-width="2.7" stroke-dasharray="3.6 3.76" stroke-linecap="round"/>
<line x1="334.5" y1="1497.2" x2="366.0" y2="1497.2" stroke="#000" stroke-width="3.15" stroke-linecap="round"/>
<line x1="350.6" y1="1580.7" x2="350.6" y2="1578.5" stroke="#000" stroke-width="2.7" stroke-dasharray="3.6 3.76" stroke-linecap="round"/>
<line x1="341.90000000000003" y1="1588.9" x2="366.0" y2="1588.9" stroke="#000" stroke-width="3.15" stroke-linecap="round"/>
<rect x="413.9" y="1445.1" width="62.60000000000002" height="79.40000000000009" fill="#d3d3d3" stroke="#000" stroke-width="3.15" stroke-linejoin="round"/>
<line x1="413.9" y1="1501.3" x2="476.5" y2="1501.3" stroke="#000" stroke-width="3.15"/>
<line x1="445.3" y1="1369.6" x2="445.3" y2="1444" stroke="#000" stroke-width="2.7" stroke-dasharray="3.6 3.76" stroke-linecap="round"/>
<line x1="429.90000000000003" y1="1362.4" x2="461.9" y2="1362.4" stroke="#000" stroke-width="3.15" stroke-linecap="round"/>
<line x1="445.3" y1="1535.7" x2="445.3" y2="1527" stroke="#000" stroke-width="2.7" stroke-dasharray="3.6 3.76" stroke-linecap="round"/>
<line x1="429.90000000000003" y1="1544.1" x2="461.0" y2="1544.1" stroke="#000" stroke-width="3.15" stroke-linecap="round"/>
<rect x="506.5" y="1395.8" width="64.79999999999995" height="109.40000000000009" fill="#d3d3d3" stroke="#000" stroke-width="3.15" stroke-linejoin="round"/>
<line x1="506.5" y1="1467.8" x2="571.3" y2="1467.8" stroke="#000" stroke-width="3.15"/>
<line x1="538.8" y1="1242.3999999999999" x2="538.8" y2="1394.5" stroke="#000" stroke-width="2.7" stroke-dasharray="3.6 3.76" stroke-linecap="round"/>
<line x1="517.0" y1="1235.2" x2="552.5" y2="1235.2" stroke="#000" stroke-width="3.15" stroke-linecap="round"/>
<line x1="538.8" y1="1574.8" x2="538.8" y2="1510.5" stroke="#000" stroke-width="2.7" stroke-dasharray="3.6 3.76" stroke-linecap="round"/>
<line x1="523.1" y1="1582" x2="560.4" y2="1582" stroke="#000" stroke-width="3.15" stroke-linecap="round"/>
<rect x="601.4" y="1316.6" width="63.10000000000002" height="137.30000000000018" fill="#d3d3d3" stroke="#000" stroke-width="3.15" stroke-linejoin="round"/>
<line x1="601.4" y1="1378.5" x2="664.5" y2="1378.5" stroke="#000" stroke-width="3.15"/>
<line x1="632.9" y1="1169.3999999999999" x2="632.9" y2="1315.5" stroke="#000" stroke-width="2.7" stroke-dasharray="3.6 3.76" stroke-linecap="round"/>
<line x1="617.8000000000001" y1="1162.2" x2="648.5" y2="1162.2" stroke="#000" stroke-width="3.15" stroke-linecap="round"/>
<line x1="632.9" y1="1490.1000000000001" x2="632.9" y2="1457.4" stroke="#000" stroke-width="2.7" stroke-dasharray="3.6 3.76" stroke-linecap="round"/>
<line x1="618.7" y1="1497.3" x2="648.5" y2="1497.3" stroke="#000" stroke-width="3.15" stroke-linecap="round"/>
<rect x="78.8" y="1144.5" width="603.0" height="462.0" fill="none" stroke="#000" stroke-width="3.15" stroke-linejoin="round"/>
<line x1="70.39999999999999" y1="1152.9" x2="78.8" y2="1152.9" stroke="#000" stroke-width="2.7" stroke-linecap="round"/>
<text transform="translate(61.3,1160.4) scale(1,1.07)" font-size="22.4" text-anchor="end" >40</text>
<line x1="70.39999999999999" y1="1262" x2="78.8" y2="1262" stroke="#000" stroke-width="2.7" stroke-linecap="round"/>
<text transform="translate(61.3,1269.5) scale(1,1.07)" font-size="22.4" text-anchor="end" >30</text>
<line x1="70.39999999999999" y1="1371" x2="78.8" y2="1371" stroke="#000" stroke-width="2.7" stroke-linecap="round"/>
<text transform="translate(61.3,1378.5) scale(1,1.07)" font-size="22.4" text-anchor="end" >20</text>
<line x1="70.39999999999999" y1="1480" x2="78.8" y2="1480" stroke="#000" stroke-width="2.7" stroke-linecap="round"/>
<text transform="translate(61.3,1487.5) scale(1,1.07)" font-size="22.4" text-anchor="end" >10</text>
<line x1="70.39999999999999" y1="1589.1" x2="78.8" y2="1589.1" stroke="#000" stroke-width="2.7" stroke-linecap="round"/>
<text transform="translate(61.3,1596.6) scale(1,1.07)" font-size="22.4" text-anchor="end" >0</text>
<line x1="137" y1="1606.5" x2="137" y2="1615.5" stroke="#000" stroke-width="2.7" stroke-linecap="round"/>
<text transform="translate(134.8,1637.3) scale(1,1.07)" font-size="22.4" text-anchor="middle" >1</text>
<line x1="245.1" y1="1606.5" x2="245.1" y2="1615.5" stroke="#000" stroke-width="2.7" stroke-linecap="round"/>
<text transform="translate(244.29999999999998,1637.3) scale(1,1.07)" font-size="22.4" text-anchor="middle" >2</text>
<line x1="350.5" y1="1606.5" x2="350.5" y2="1615.5" stroke="#000" stroke-width="2.7" stroke-linecap="round"/>
<text transform="translate(349.7,1637.3) scale(1,1.07)" font-size="22.4" text-anchor="middle" >3</text>
<line x1="445.3" y1="1606.5" x2="445.3" y2="1615.5" stroke="#000" stroke-width="2.7" stroke-linecap="round"/>
<text transform="translate(443.6,1637.3) scale(1,1.07)" font-size="22.4" text-anchor="middle" >4</text>
<line x1="538.8" y1="1606.5" x2="538.8" y2="1615.5" stroke="#000" stroke-width="2.7" stroke-linecap="round"/>
<text transform="translate(537.3,1637.3) scale(1,1.07)" font-size="22.4" text-anchor="middle" >5</text>
<line x1="632.9" y1="1606.5" x2="632.9" y2="1615.5" stroke="#000" stroke-width="2.7" stroke-linecap="round"/>
<text transform="translate(631.4,1637.3) scale(1,1.07)" font-size="22.4" text-anchor="middle" >6</text>
<circle cx="113.6" cy="1538" r="4.5" fill="#00aeef" stroke="#000" stroke-width="2.8"/>
<circle cx="128.3" cy="1558.4" r="4.5" fill="#00aeef" stroke="#000" stroke-width="2.8"/>
<circle cx="120.6" cy="1563.6" r="4.5" fill="#00aeef" stroke="#000" stroke-width="2.8"/>
<circle cx="118" cy="1575.2" r="4.5" fill="#00aeef" stroke="#000" stroke-width="2.8"/>
<circle cx="110.3" cy="1584" r="4.5" fill="#00aeef" stroke="#000" stroke-width="2.8"/>
<circle cx="125.6" cy="1584" r="4.5" fill="#00aeef" stroke="#000" stroke-width="2.8"/>
<circle cx="103.1" cy="1588.8" r="4.5" fill="#00aeef" stroke="#000" stroke-width="2.8"/>
<circle cx="112.5" cy="1588.8" r="4.5" fill="#00aeef" stroke="#000" stroke-width="2.8"/>
<circle cx="122.1" cy="1588.8" r="4.5" fill="#00aeef" stroke="#000" stroke-width="2.8"/>
<circle cx="132.2" cy="1588.8" r="4.5" fill="#00aeef" stroke="#000" stroke-width="2.8"/>
<circle cx="178.6" cy="1583.4" r="4.5" fill="#00aeef" stroke="#000" stroke-width="2.8"/>
<circle cx="157.2" cy="1545" r="4.5" fill="#ff0000" stroke="#000" stroke-width="2.8"/>
<circle cx="149.5" cy="1556.6" r="4.5" fill="#ff0000" stroke="#000" stroke-width="2.8"/>
<circle cx="146.9" cy="1588.8" r="4.5" fill="#ff0000" stroke="#000" stroke-width="2.8"/>
<circle cx="156.7" cy="1588.8" r="4.5" fill="#ff0000" stroke="#000" stroke-width="2.8"/>
<circle cx="166.1" cy="1588.8" r="4.5" fill="#ff0000" stroke="#000" stroke-width="2.8"/>
<circle cx="157" cy="1429.7" r="4.5" fill="#ff0000" stroke="#000" stroke-width="2.8"/>
<circle cx="157" cy="1435.2" r="4.5" fill="#ff0000" stroke="#000" stroke-width="2.8"/>
<circle cx="239.3" cy="1501.9" r="4.5" fill="#00aeef" stroke="#000" stroke-width="2.8"/>
<circle cx="223.9" cy="1536.9" r="4.5" fill="#00aeef" stroke="#000" stroke-width="2.8"/>
<circle cx="215.1" cy="1532.2" r="4.5" fill="#00aeef" stroke="#000" stroke-width="2.8"/>
<circle cx="224.8" cy="1531.3" r="4.5" fill="#00aeef" stroke="#000" stroke-width="2.8"/>
<circle cx="238.1" cy="1545.7" r="4.5" fill="#00aeef" stroke="#000" stroke-width="2.8"/>
<circle cx="223.9" cy="1550.6" r="4.5" fill="#00aeef" stroke="#000" stroke-width="2.8"/>
<circle cx="233.2" cy="1556.2" r="4.5" fill="#00aeef" stroke="#000" stroke-width="2.8"/>
<circle cx="219.5" cy="1562.9" r="4.5" fill="#00aeef" stroke="#000" stroke-width="2.8"/>
<circle cx="228.8" cy="1572.5" r="4.5" fill="#00aeef" stroke="#000" stroke-width="2.8"/>
<circle cx="213.9" cy="1574.6" r="4.5" fill="#00aeef" stroke="#000" stroke-width="2.8"/>
<circle cx="236.3" cy="1576.7" r="4.5" fill="#00aeef" stroke="#000" stroke-width="2.8"/>
<circle cx="221.8" cy="1577.2" r="4.5" fill="#00aeef" stroke="#000" stroke-width="2.8"/>
<circle cx="216.5" cy="1580.7" r="4.5" fill="#00aeef" stroke="#000" stroke-width="2.8"/>
<circle cx="229.3" cy="1580.2" r="4.5" fill="#00aeef" stroke="#000" stroke-width="2.8"/>
<circle cx="221.8" cy="1583.4" r="4.5" fill="#00aeef" stroke="#000" stroke-width="2.8"/>
<circle cx="213.6" cy="1587.2" r="4.5" fill="#00aeef" stroke="#000" stroke-width="2.8"/>
<circle cx="235.8" cy="1585.1" r="4.5" fill="#00aeef" stroke="#000" stroke-width="2.8"/>
<circle cx="241.6" cy="1587.7" r="4.5" fill="#00aeef" stroke="#000" stroke-width="2.8"/>
<circle cx="205.1" cy="1589.5" r="4.5" fill="#00aeef" stroke="#000" stroke-width="2.8"/>
<circle cx="220.9" cy="1589.5" r="4.5" fill="#00aeef" stroke="#000" stroke-width="2.8"/>
<circle cx="227" cy="1589.5" r="4.5" fill="#00aeef" stroke="#000" stroke-width="2.8"/>
<circle cx="233.2" cy="1589.5" r="4.5" fill="#00aeef" stroke="#000" stroke-width="2.8"/>
<circle cx="267" cy="1561.1" r="4.5" fill="#ff0000" stroke="#000" stroke-width="2.8"/>
<circle cx="260.3" cy="1562.9" r="4.5" fill="#ff0000" stroke="#000" stroke-width="2.8"/>
<circle cx="265.1" cy="1570.8" r="4.5" fill="#ff0000" stroke="#000" stroke-width="2.8"/>
<circle cx="255.6" cy="1572.9" r="4.5" fill="#ff0000" stroke="#000" stroke-width="2.8"/>
<circle cx="253.3" cy="1580.4" r="4.5" fill="#ff0000" stroke="#000" stroke-width="2.8"/>
<circle cx="275.2" cy="1584.2" r="4.5" fill="#ff0000" stroke="#000" stroke-width="2.8"/>
<circle cx="259.8" cy="1586" r="4.5" fill="#ff0000" stroke="#000" stroke-width="2.8"/>
<circle cx="266.5" cy="1585.1" r="4.5" fill="#ff0000" stroke="#000" stroke-width="2.8"/>
<circle cx="251.6" cy="1589.5" r="4.5" fill="#ff0000" stroke="#000" stroke-width="2.8"/>
<circle cx="270.8" cy="1589.8" r="4.5" fill="#ff0000" stroke="#000" stroke-width="2.8"/>
<circle cx="263" cy="1271" r="4.5" fill="#ff0000" stroke="#000" stroke-width="2.8"/>
<circle cx="341.2" cy="1427.2" r="4.5" fill="#00aeef" stroke="#000" stroke-width="2.8"/>
<circle cx="334.3" cy="1435.9" r="4.5" fill="#00aeef" stroke="#000" stroke-width="2.8"/>
<circle cx="325" cy="1498.6" r="4.5" fill="#00aeef" stroke="#000" stroke-width="2.8"/>
<circle cx="333.4" cy="1510.7" r="4.5" fill="#00aeef" stroke="#000" stroke-width="2.8"/>
<circle cx="322.4" cy="1535.8" r="4.5" fill="#00aeef" stroke="#000" stroke-width="2.8"/>
<circle cx="332" cy="1539.6" r="4.5" fill="#00aeef" stroke="#000" stroke-width="2.8"/>
<circle cx="324.2" cy="1561.2" r="4.5" fill="#00aeef" stroke="#000" stroke-width="2.8"/>
<circle cx="333.4" cy="1559.4" r="4.5" fill="#00aeef" stroke="#000" stroke-width="2.8"/>
<circle cx="342.2" cy="1557.7" r="4.5" fill="#00aeef" stroke="#000" stroke-width="2.8"/>
<circle cx="349.2" cy="1565.2" r="4.5" fill="#00aeef" stroke="#000" stroke-width="2.8"/>
<circle cx="335.2" cy="1568.7" r="4.5" fill="#00aeef" stroke="#000" stroke-width="2.8"/>
<circle cx="342.2" cy="1573.4" r="4.5" fill="#00aeef" stroke="#000" stroke-width="2.8"/>
<circle cx="314" cy="1574.7" r="4.5" fill="#00aeef" stroke="#000" stroke-width="2.8"/>
<circle cx="328.9" cy="1574.7" r="4.5" fill="#00aeef" stroke="#000" stroke-width="2.8"/>
<circle cx="335.9" cy="1576.1" r="4.5" fill="#00aeef" stroke="#000" stroke-width="2.8"/>
<circle cx="323.3" cy="1580.1" r="4.5" fill="#00aeef" stroke="#000" stroke-width="2.8"/>
<circle cx="329.9" cy="1586.9" r="4.5" fill="#00aeef" stroke="#000" stroke-width="2.8"/>
<circle cx="340.3" cy="1586.9" r="4.5" fill="#00aeef" stroke="#000" stroke-width="2.8"/>
<circle cx="363.9" cy="1376" r="4.5" fill="#ff0000" stroke="#000" stroke-width="2.8"/>
<circle cx="363.2" cy="1461.8" r="4.5" fill="#ff0000" stroke="#000" stroke-width="2.8"/>
<circle cx="377.2" cy="1501.3" r="4.5" fill="#ff0000" stroke="#000" stroke-width="2.8"/>
<circle cx="362.4" cy="1528.4" r="4.5" fill="#ff0000" stroke="#000" stroke-width="2.8"/>
<circle cx="373.2" cy="1534" r="4.5" fill="#ff0000" stroke="#000" stroke-width="2.8"/>
<circle cx="361" cy="1545.4" r="4.5" fill="#ff0000" stroke="#000" stroke-width="2.8"/>
<circle cx="373.7" cy="1544" r="4.5" fill="#ff0000" stroke="#000" stroke-width="2.8"/>
<circle cx="370.2" cy="1551.2" r="4.5" fill="#ff0000" stroke="#000" stroke-width="2.8"/>
<circle cx="361.8" cy="1556.4" r="4.5" fill="#ff0000" stroke="#000" stroke-width="2.8"/>
<circle cx="374.6" cy="1589.2" r="4.5" fill="#ff0000" stroke="#000" stroke-width="2.8"/>
<circle cx="431.8" cy="1445.3" r="4.5" fill="#00aeef" stroke="#000" stroke-width="2.8"/>
<circle cx="434.6" cy="1466.7" r="4.5" fill="#00aeef" stroke="#000" stroke-width="2.8"/>
<circle cx="425.6" cy="1502.6" r="4.5" fill="#00aeef" stroke="#000" stroke-width="2.8"/>
<circle cx="431.1" cy="1518" r="4.5" fill="#00aeef" stroke="#000" stroke-width="2.8"/>
<circle cx="423" cy="1540.2" r="4.5" fill="#00aeef" stroke="#000" stroke-width="2.8"/>
<circle cx="415.7" cy="1546" r="4.5" fill="#00aeef" stroke="#000" stroke-width="2.8"/>
<circle cx="469.4" cy="1362.8" r="4.5" fill="#ff0000" stroke="#000" stroke-width="2.8"/>
<circle cx="462.1" cy="1383.4" r="4.5" fill="#ff0000" stroke="#000" stroke-width="2.8"/>
<circle cx="456.5" cy="1525.7" r="4.5" fill="#ff0000" stroke="#000" stroke-width="2.8"/>
<circle cx="521.5" cy="1203.3" r="4.5" fill="#00aeef" stroke="#000" stroke-width="2.8"/>
<circle cx="515.6" cy="1235.2" r="4.5" fill="#00aeef" stroke="#000" stroke-width="2.8"/>
<circle cx="521.5" cy="1272" r="4.5" fill="#00aeef" stroke="#000" stroke-width="2.8"/>
<circle cx="521.5" cy="1296.9" r="4.5" fill="#00aeef" stroke="#000" stroke-width="2.8"/>
<circle cx="521.5" cy="1331.5" r="4.5" fill="#00aeef" stroke="#000" stroke-width="2.8"/>
<circle cx="527" cy="1384.2" r="4.5" fill="#00aeef" stroke="#000" stroke-width="2.8"/>
<circle cx="529.6" cy="1427" r="4.5" fill="#00aeef" stroke="#000" stroke-width="2.8"/>
<circle cx="520.6" cy="1431.3" r="4.5" fill="#00aeef" stroke="#000" stroke-width="2.8"/>
<circle cx="524.1" cy="1437.8" r="4.5" fill="#00aeef" stroke="#000" stroke-width="2.8"/>
<circle cx="533.8" cy="1442.7" r="4.5" fill="#00aeef" stroke="#000" stroke-width="2.8"/>
<circle cx="519.4" cy="1481.3" r="4.5" fill="#00aeef" stroke="#000" stroke-width="2.8"/>
<circle cx="527" cy="1488.3" r="4.5" fill="#00aeef" stroke="#000" stroke-width="2.8"/>
<circle cx="522.4" cy="1506.1" r="4.5" fill="#00aeef" stroke="#000" stroke-width="2.8"/>
<circle cx="525.6" cy="1526.8" r="4.5" fill="#00aeef" stroke="#000" stroke-width="2.8"/>
<circle cx="527.7" cy="1539.4" r="4.5" fill="#00aeef" stroke="#000" stroke-width="2.8"/>
<circle cx="519.4" cy="1543.3" r="4.5" fill="#00aeef" stroke="#000" stroke-width="2.8"/>
<circle cx="523.4" cy="1555.7" r="4.5" fill="#00aeef" stroke="#000" stroke-width="2.8"/>
<circle cx="560.6" cy="1385.3" r="4.5" fill="#ff0000" stroke="#000" stroke-width="2.8"/>
<circle cx="552.4" cy="1395.5" r="4.5" fill="#ff0000" stroke="#000" stroke-width="2.8"/>
<circle cx="563.2" cy="1397.4" r="4.5" fill="#ff0000" stroke="#000" stroke-width="2.8"/>
<circle cx="555" cy="1457.1" r="4.5" fill="#ff0000" stroke="#000" stroke-width="2.8"/>
<circle cx="563.7" cy="1461.5" r="4.5" fill="#ff0000" stroke="#000" stroke-width="2.8"/>
<circle cx="556.2" cy="1476.4" r="4.5" fill="#ff0000" stroke="#000" stroke-width="2.8"/>
<circle cx="551.8" cy="1482.8" r="4.5" fill="#ff0000" stroke="#000" stroke-width="2.8"/>
<circle cx="561.1" cy="1482.8" r="4.5" fill="#ff0000" stroke="#000" stroke-width="2.8"/>
<circle cx="553.1" cy="1493" r="4.5" fill="#ff0000" stroke="#000" stroke-width="2.8"/>
<circle cx="558" cy="1504.4" r="4.5" fill="#ff0000" stroke="#000" stroke-width="2.8"/>
<circle cx="552.7" cy="1535" r="4.5" fill="#ff0000" stroke="#000" stroke-width="2.8"/>
<circle cx="553.2" cy="1567.5" r="4.5" fill="#ff0000" stroke="#000" stroke-width="2.8"/>
<circle cx="561.5" cy="1582.3" r="4.5" fill="#ff0000" stroke="#000" stroke-width="2.8"/>
<circle cx="609.7" cy="1162.2" r="4.5" fill="#00aeef" stroke="#000" stroke-width="2.8"/>
<circle cx="621.6" cy="1196.4" r="4.5" fill="#00aeef" stroke="#000" stroke-width="2.8"/>
<circle cx="621.6" cy="1302.1" r="4.5" fill="#00aeef" stroke="#000" stroke-width="2.8"/>
<circle cx="621.6" cy="1331.8" r="4.5" fill="#00aeef" stroke="#000" stroke-width="2.8"/>
<circle cx="616.3" cy="1346.7" r="4.5" fill="#00aeef" stroke="#000" stroke-width="2.8"/>
<circle cx="616.3" cy="1412.7" r="4.5" fill="#00aeef" stroke="#000" stroke-width="2.8"/>
<circle cx="618.4" cy="1432.5" r="4.5" fill="#00aeef" stroke="#000" stroke-width="2.8"/>
<circle cx="618.4" cy="1477.5" r="4.5" fill="#00aeef" stroke="#000" stroke-width="2.8"/>
<circle cx="618.4" cy="1491.5" r="4.5" fill="#00aeef" stroke="#000" stroke-width="2.8"/>
<circle cx="610.6" cy="1497.7" r="4.5" fill="#00aeef" stroke="#000" stroke-width="2.8"/>
<circle cx="645.9" cy="1344" r="4.5" fill="#ff0000" stroke="#000" stroke-width="2.8"/>
<circle cx="645.2" cy="1424.6" r="4.5" fill="#ff0000" stroke="#000" stroke-width="2.8"/>
<line x1="136.6" y1="1595.9" x2="636" y2="1399.7" stroke="#000" stroke-width="3.15"/>
<text x="-1.8" y="1151" font-size="40" text-anchor="start" font-weight="bold">c</text>
<text x="249" y="1136.2" font-size="22.4" text-anchor="middle" >n.s.</text>
<text x="353.3" y="1136.2" font-size="22.4" text-anchor="middle" >n.s.</text>
<text x="437.10 445.85" y="1142.73" font-size="18.6" style="stroke-width:0.6px">**</text>
<text x="530.70 539.45" y="1142.73" font-size="18.6" style="stroke-width:0.6px">**</text>
<text x="624.30 633.05" y="1142.73" font-size="18.6" style="stroke-width:0.6px">**</text>
<text transform="translate(121.0,1206.5) scale(1,1.06)" font-size="21.8"><tspan font-style="italic">r</tspan><tspan font-style="italic" font-size="15" dy="5">s</tspan><tspan dy="-5"> = 0.70</tspan></text>
<text transform="translate(121.5,1246.5) scale(1,1.06)" font-size="21.8"><tspan font-style="italic">P</tspan> &lt; 0.01</text>
<text x="396.3" y="1658.1" font-size="21.5" text-anchor="middle" >group</text>
<text transform="translate(29.2,1381.3) rotate(-90)" font-size="22.45" text-anchor="middle">ZO-1 (−)/occludin (−) cells (% of total)</text>
</g>
</svg>
</body></html>
